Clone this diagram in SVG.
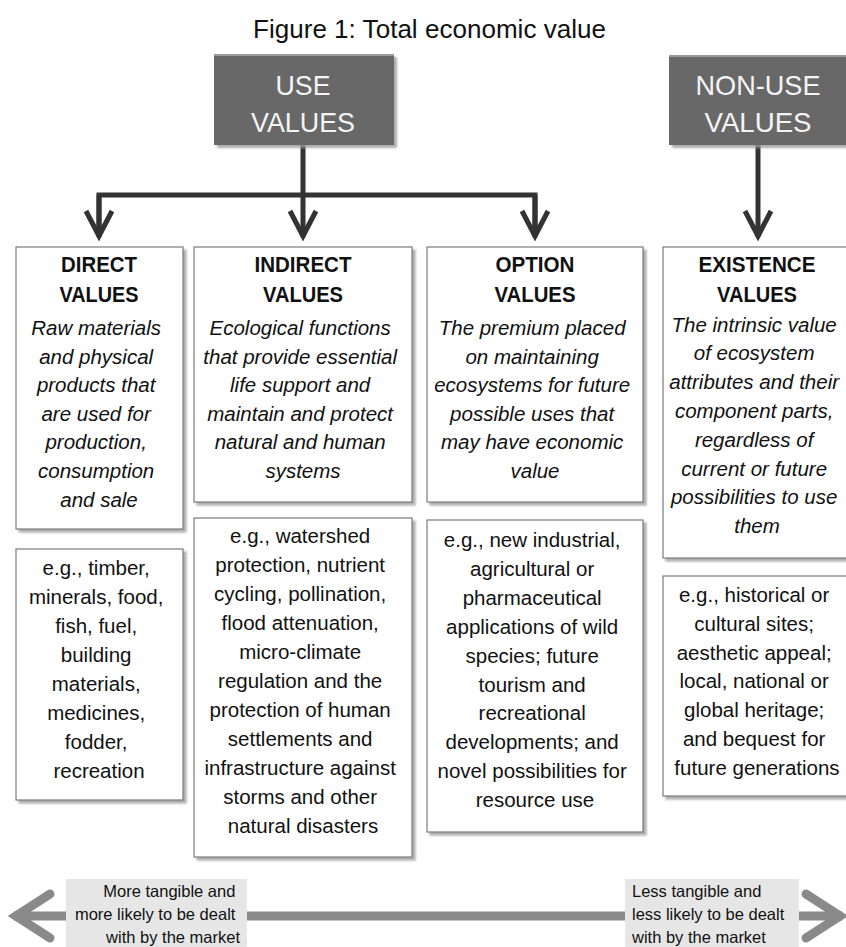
<svg xmlns="http://www.w3.org/2000/svg" width="846" height="947" viewBox="0 0 846 947">
  <style>
    text { font-family: "Liberation Sans", Arial, sans-serif; fill: #111; }
    .title { font-size: 25px; text-anchor: middle; }
    .hdr { font-size: 28px; fill: #f4f4f4; text-anchor: middle; }
    .cat { font-size: 22px; font-weight: bold; text-anchor: middle; }
    .desc { font-size: 20.5px; font-style: italic; text-anchor: middle; }
    .ex { font-size: 20.5px; text-anchor: middle; }
    .lab { font-size: 16.5px; }
    .box { fill: #fff; stroke: #7a7a7a; stroke-width: 1.2; filter: url(#sh); }
    .dark { fill: #686868; filter: url(#sh); }
    .conn { fill: none; stroke: #333; stroke-width: 5; }
    .scale { fill: none; stroke: #8a8a8a; stroke-width: 9; }
    .labbg { fill: #e6e6e6; }
  </style>
  <defs>
    <filter id="sh" x="-10%" y="-10%" width="130%" height="130%">
      <feDropShadow dx="3" dy="3" stdDeviation="1.2" flood-color="#999" flood-opacity="0.8"/>
    </filter>
    <marker id="ah" markerUnits="userSpaceOnUse" viewBox="-30 -20 40 40" markerWidth="40" markerHeight="40" refX="0" refY="0" orient="auto" overflow="visible">
      <path d="M-26,-13 L-1,0 L-26,13" fill="none" stroke="#333" stroke-width="5"/>
    </marker>
    <marker id="gh" markerUnits="userSpaceOnUse" viewBox="-50 -30 60 60" markerWidth="60" markerHeight="60" refX="0" refY="0" orient="auto-start-reverse" overflow="visible">
      <path d="M-36,-22 L-2,0 L-36,22" fill="none" stroke="#8a8a8a" stroke-width="9" stroke-linecap="round"/>
    </marker>
  </defs>

  <rect width="846" height="947" fill="#fff"/>

  <text class="title" x="429.5" y="37.5" textLength="353" lengthAdjust="spacingAndGlyphs">Figure 1: Total economic value</text>

  <g id="connectors">
    <path class="conn" d="M303,145 V195"/>
    <path class="conn" d="M99,236 V195 H535 V236" marker-start="none"/>
    <path class="conn" d="M99,195 V237" marker-end="url(#ah)"/>
    <path class="conn" d="M303,195 V237" marker-end="url(#ah)"/>
    <path class="conn" d="M535,195 V237" marker-end="url(#ah)"/>
    <path class="conn" d="M758,145 V237" marker-end="url(#ah)"/>
    <path class="scale" d="M14,916 H842" marker-start="url(#gh)" marker-end="url(#gh)"/>
  </g>

  <g id="use-values">
    <rect class="dark" x="214" y="54" width="180" height="91"/>
    <rect x="214" y="54" width="180" height="2" fill="#9a9a9a"/>
    <text class="hdr" x="303" y="95" textLength="55" lengthAdjust="spacingAndGlyphs">USE</text>
    <text class="hdr" x="303" y="132" textLength="104" lengthAdjust="spacingAndGlyphs">VALUES</text>
  </g>

  <g id="non-use-values">
    <rect class="dark" x="669" y="55" width="190" height="90"/>
    <rect x="669" y="55" width="190" height="2" fill="#9a9a9a"/>
    <text class="hdr" x="758" y="95" textLength="125" lengthAdjust="spacingAndGlyphs">NON-USE</text>
    <text class="hdr" x="758" y="132" textLength="107" lengthAdjust="spacingAndGlyphs">VALUES</text>
  </g>

  <g id="direct-values">
    <rect class="box" x="16" y="247" width="167" height="282"/>
    <text class="cat" x="99" y="272" textLength="76" lengthAdjust="spacingAndGlyphs">DIRECT</text>
    <text class="cat" x="99" y="302" textLength="79" lengthAdjust="spacingAndGlyphs">VALUES</text>
    <text class="desc" x="99">
      <tspan x="99" y="335">Raw materials</tspan>
      <tspan x="99" y="363.6">and physical</tspan>
      <tspan x="99" y="392.2">products that</tspan>
      <tspan x="99" y="420.8">are used for</tspan>
      <tspan x="99" y="449.4">production,</tspan>
      <tspan x="99" y="478">consumption</tspan>
      <tspan x="99" y="506.6">and sale</tspan>
    </text>
  </g>

  <g id="direct-examples">
    <rect class="box" x="16" y="549" width="167" height="251"/>
    <text class="ex">
      <tspan x="99" y="575">e.g., timber,</tspan>
      <tspan x="99" y="604">minerals, food,</tspan>
      <tspan x="99" y="633">fish, fuel,</tspan>
      <tspan x="99" y="662">building</tspan>
      <tspan x="99" y="691">materials,</tspan>
      <tspan x="99" y="720">medicines,</tspan>
      <tspan x="99" y="749">fodder,</tspan>
      <tspan x="99" y="778">recreation</tspan>
    </text>
  </g>

  <g id="indirect-values">
    <rect class="box" x="194" y="247" width="218" height="255"/>
    <text class="cat" x="303" y="272" textLength="97" lengthAdjust="spacingAndGlyphs">INDIRECT</text>
    <text class="cat" x="303" y="302" textLength="80" lengthAdjust="spacingAndGlyphs">VALUES</text>
    <text class="desc">
      <tspan x="303" y="335">Ecological functions</tspan>
      <tspan x="303" y="363.6">that provide essential</tspan>
      <tspan x="303" y="392.2">life support and</tspan>
      <tspan x="303" y="420.8">maintain and protect</tspan>
      <tspan x="303" y="449.4">natural and human</tspan>
      <tspan x="303" y="478">systems</tspan>
    </text>
  </g>

  <g id="indirect-examples">
    <rect class="box" x="194" y="518" width="218" height="339"/>
    <text class="ex">
      <tspan x="303" y="543">e.g., watershed</tspan>
      <tspan x="303" y="572">protection, nutrient</tspan>
      <tspan x="303" y="601">cycling, pollination,</tspan>
      <tspan x="303" y="630">flood attenuation,</tspan>
      <tspan x="303" y="659">micro-climate</tspan>
      <tspan x="303" y="688">regulation and the</tspan>
      <tspan x="303" y="717">protection of human</tspan>
      <tspan x="303" y="746">settlements and</tspan>
      <tspan x="303" y="775">infrastructure against</tspan>
      <tspan x="303" y="804">storms and other</tspan>
      <tspan x="303" y="833">natural disasters</tspan>
    </text>
  </g>

  <g id="option-values">
    <rect class="box" x="427" y="247" width="216" height="255"/>
    <text class="cat" x="535" y="272" textLength="79" lengthAdjust="spacingAndGlyphs">OPTION</text>
    <text class="cat" x="535" y="302" textLength="81" lengthAdjust="spacingAndGlyphs">VALUES</text>
    <text class="desc">
      <tspan x="535" y="335">The premium placed</tspan>
      <tspan x="535" y="363.6">on maintaining</tspan>
      <tspan x="535" y="392.2">ecosystems for future</tspan>
      <tspan x="535" y="420.8">possible uses that</tspan>
      <tspan x="535" y="449.4">may have economic</tspan>
      <tspan x="535" y="478">value</tspan>
    </text>
  </g>

  <g id="option-examples">
    <rect class="box" x="427" y="520" width="216" height="312"/>
    <text class="ex">
      <tspan x="535" y="547">e.g., new industrial,</tspan>
      <tspan x="535" y="576">agricultural or</tspan>
      <tspan x="535" y="604.8">pharmaceutical</tspan>
      <tspan x="535" y="633.7">applications of wild</tspan>
      <tspan x="535" y="662.6">species; future</tspan>
      <tspan x="535" y="691.5">tourism and</tspan>
      <tspan x="535" y="720.4">recreational</tspan>
      <tspan x="535" y="749.3">developments; and</tspan>
      <tspan x="535" y="778.2">novel possibilities for</tspan>
      <tspan x="535" y="807">resource use</tspan>
    </text>
  </g>

  <g id="existence-values">
    <rect class="box" x="663" y="247" width="195" height="311"/>
    <text class="cat" x="757" y="272" textLength="117" lengthAdjust="spacingAndGlyphs">EXISTENCE</text>
    <text class="cat" x="757" y="302" textLength="80" lengthAdjust="spacingAndGlyphs">VALUES</text>
    <text class="desc">
      <tspan x="757" y="331.5">The intrinsic value</tspan>
      <tspan x="757" y="360.3">of ecosystem</tspan>
      <tspan x="757" y="389.1">attributes and their</tspan>
      <tspan x="757" y="417.9">component parts,</tspan>
      <tspan x="757" y="446.7">regardless of</tspan>
      <tspan x="757" y="475.5">current or future</tspan>
      <tspan x="757" y="504.3">possibilities to use</tspan>
      <tspan x="757" y="533.1">them</tspan>
    </text>
  </g>

  <g id="existence-examples">
    <rect class="box" x="663" y="576" width="195" height="220"/>
    <text class="ex">
      <tspan x="757" y="602">e.g., historical or</tspan>
      <tspan x="757" y="630.8">cultural sites;</tspan>
      <tspan x="757" y="659.6">aesthetic appeal;</tspan>
      <tspan x="757" y="688.4">local, national or</tspan>
      <tspan x="757" y="717.2">global heritage;</tspan>
      <tspan x="757" y="746">and bequest for</tspan>
      <tspan x="757" y="774.8">future generations</tspan>
    </text>
  </g>

  <g id="label-tangible">
    <rect class="labbg" x="66" y="879" width="181" height="68"/>
    <text class="lab" text-anchor="end">
      <tspan x="240" y="897">More tangible and</tspan>
      <tspan x="240" y="920">more likely to be dealt</tspan>
      <tspan x="240" y="943">with by the market</tspan>
    </text>
  </g>

  <g id="label-intangible">
    <rect class="labbg" x="625" y="879" width="174" height="68"/>
    <text class="lab">
      <tspan x="632" y="897">Less tangible and</tspan>
      <tspan x="632" y="920">less likely to be dealt</tspan>
      <tspan x="632" y="943">with by the market</tspan>
    </text>
  </g>
</svg>
